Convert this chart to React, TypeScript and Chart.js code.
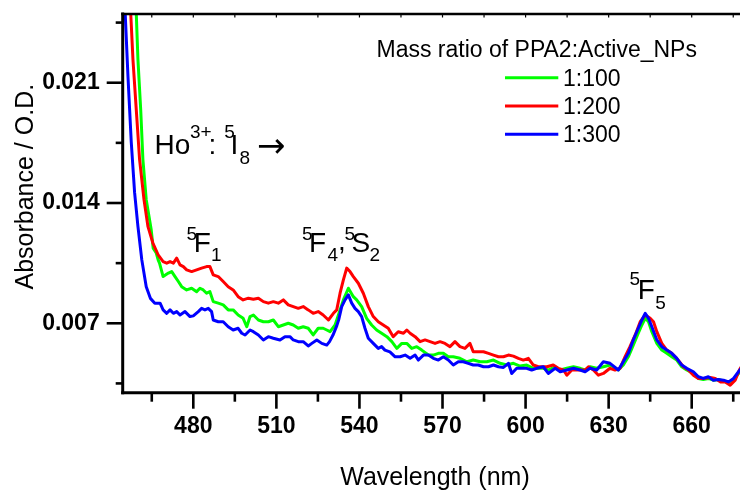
import React, { useEffect, useRef } from 'react';
import { Chart, registerables } from 'chart.js';

Chart.register(...registerables);

const FONT = "'Liberation Sans', Arial, Helvetica, sans-serif";

// Axis ranges
const X_MIN = 454.5;
const X_MAX = 677.44;
const Y_MIN = 0.00296;
const Y_MAX = 0.025;

// Tick values and labels
const X_TICKS = [465, 480, 495, 510, 525, 540, 555, 570, 585, 600, 615, 630, 645, 660, 675];
const X_LABELS = ['', '480', '', '510', '', '540', '', '570', '', '600', '', '630', '', '660', ''];
const Y_TICKS = [0.0035, 0.007, 0.0105, 0.014, 0.0175, 0.021, 0.0245];
const Y_LABELS = ['', '0.007', '', '0.014', '', '0.021', ''];

// Series names and colours
const SERIES_NAMES = ['1:100', '1:200', '1:300'];
const SERIES_COLORS = ['#00ff00', '#ff0000', '#0000ff'];

// 1:300 (blue)
const BLUE_WL = [454.5, 455.4, 456.4, 457.6, 458.8, 460.0, 461.4, 463.0, 464.5, 466.1,
  468.0, 469.1, 470.4, 471.6, 472.8, 474.0, 475.2, 477.0, 478.8, 480.0,
  481.8, 483.0, 484.2, 485.4, 486.6, 487.2, 489.0, 490.8, 492.6, 494.4,
  496.2, 497.5, 498.7, 500.5, 501.7, 503.5, 505.3, 507.1, 508.9, 511.3,
  513.1, 514.9, 516.1, 517.9, 519.7, 521.5, 522.8, 524.6, 526.4, 528.2,
  529.2, 530.4, 531.8, 532.5, 533.6, 534.8, 536.0, 537.2, 538.4, 539.6,
  540.8, 542.0, 543.2, 545.0, 546.8, 548.0, 549.2, 551.0, 552.9, 554.7,
  556.5, 558.3, 560.1, 561.3, 563.1, 564.9, 566.7, 568.5, 570.3, 572.1,
  573.9, 575.7, 577.5, 579.3, 581.1, 582.9, 584.8, 586.6, 588.4, 590.2,
  592.0, 593.8, 595.0, 596.8, 598.6, 600.4, 602.2, 604.0, 606.4, 608.2,
  610.7, 612.5, 614.9, 617.3, 619.7, 621.5, 623.3, 625.7, 628.1, 630.5,
  633.5, 635.3, 637.1, 638.9, 640.7, 642.0, 643.2, 644.4, 645.6, 647.4,
  649.2, 651.0, 652.8, 654.6, 656.4, 658.2, 660.6, 662.4, 664.2, 666.0,
  667.8, 669.6, 671.5, 673.3, 675.1, 676.9, 678.0];
const BLUE_ABS = [0.02880, 0.02504, 0.02138, 0.01752, 0.01460, 0.01264, 0.01069, 0.00913, 0.00845, 0.00817,
  0.00817, 0.00778, 0.00758, 0.00778, 0.00758, 0.00768, 0.00748, 0.00768, 0.00739, 0.00743,
  0.00768, 0.00787, 0.00778, 0.00787, 0.00768, 0.00719, 0.00709, 0.00709, 0.00680, 0.00661,
  0.00671, 0.00642, 0.00632, 0.00661, 0.00651, 0.00632, 0.00603, 0.00622, 0.00613, 0.00603,
  0.00622, 0.00622, 0.00603, 0.00593, 0.00593, 0.00568, 0.00583, 0.00603, 0.00583, 0.00573,
  0.00593, 0.00630, 0.00685, 0.00720, 0.00797, 0.00836, 0.00865, 0.00817, 0.00787, 0.00768,
  0.00739, 0.00671, 0.00613, 0.00583, 0.00554, 0.00564, 0.00544, 0.00534, 0.00505, 0.00505,
  0.00515, 0.00496, 0.00515, 0.00486, 0.00515, 0.00515, 0.00496, 0.00486, 0.00505, 0.00486,
  0.00457, 0.00476, 0.00476, 0.00467, 0.00457, 0.00457, 0.00447, 0.00447, 0.00457, 0.00447,
  0.00443, 0.00467, 0.00408, 0.00438, 0.00438, 0.00438, 0.00428, 0.00438, 0.00447, 0.00408,
  0.00438, 0.00418, 0.00428, 0.00438, 0.00428, 0.00418, 0.00438, 0.00428, 0.00476, 0.00467,
  0.00428, 0.00476, 0.00525, 0.00603, 0.00671, 0.00719, 0.00758, 0.00729, 0.00680, 0.00603,
  0.00564, 0.00544, 0.00525, 0.00496, 0.00457, 0.00438, 0.00418, 0.00389, 0.00379, 0.00389,
  0.00369, 0.00373, 0.00369, 0.00359, 0.00379, 0.00418, 0.00440];

// 1:100 (green)
const GREEN_WL = [458.5, 459.4, 460.0, 461.0, 461.8, 463.0, 464.8, 465.5, 466.6, 467.3,
  467.8, 469.1, 471.0, 472.2, 473.4, 474.6, 475.8, 477.6, 479.4, 481.2,
  482.4, 483.6, 484.8, 486.0, 487.2, 489.0, 490.8, 492.6, 494.4, 496.2,
  498.0, 499.3, 500.5, 501.7, 503.5, 505.3, 507.1, 508.9, 510.7, 512.5,
  514.3, 516.1, 517.9, 519.7, 521.5, 523.3, 525.1, 526.9, 528.2, 529.4,
  531.2, 533.0, 534.2, 536.0, 537.8, 539.0, 540.8, 542.6, 544.4, 546.2,
  548.0, 549.9, 551.7, 553.5, 555.3, 557.1, 558.9, 560.7, 562.5, 564.9,
  566.7, 568.5, 570.3, 572.1, 573.9, 576.3, 578.8, 581.1, 583.6, 586.0,
  588.4, 590.8, 593.2, 595.6, 598.0, 600.4, 602.8, 604.6, 606.4, 608.2,
  610.7, 612.5, 614.9, 617.3, 619.7, 621.5, 623.3, 625.7, 628.1, 630.5,
  633.5, 635.3, 637.1, 638.9, 640.7, 642.0, 643.2, 644.4, 645.6, 647.4,
  649.2, 651.0, 652.8, 654.6, 656.4, 658.2, 660.6, 662.4, 664.2, 666.0,
  667.8, 669.6, 671.5, 673.3, 675.1, 676.9, 678.0];
const GREEN_ABS = [0.02900, 0.02504, 0.02236, 0.01944, 0.01653, 0.01419, 0.01244, 0.01137, 0.01110, 0.01069,
  0.01050, 0.00972, 0.00992, 0.01001, 0.00972, 0.00943, 0.00913, 0.00894, 0.00904, 0.00884,
  0.00904, 0.00894, 0.00875, 0.00884, 0.00826, 0.00817, 0.00807, 0.00778, 0.00778, 0.00748,
  0.00729, 0.00680, 0.00739, 0.00748, 0.00719, 0.00709, 0.00709, 0.00719, 0.00680, 0.00690,
  0.00700, 0.00690, 0.00671, 0.00680, 0.00671, 0.00632, 0.00671, 0.00671, 0.00661, 0.00651,
  0.00690, 0.00778, 0.00836, 0.00904, 0.00855, 0.00836, 0.00797, 0.00729, 0.00690, 0.00661,
  0.00642, 0.00622, 0.00593, 0.00554, 0.00583, 0.00583, 0.00554, 0.00564, 0.00544, 0.00515,
  0.00515, 0.00525, 0.00525, 0.00505, 0.00505, 0.00496, 0.00476, 0.00486, 0.00476, 0.00476,
  0.00486, 0.00467, 0.00457, 0.00467, 0.00451, 0.00457, 0.00438, 0.00438, 0.00438, 0.00428,
  0.00447, 0.00428, 0.00438, 0.00447, 0.00438, 0.00428, 0.00447, 0.00438, 0.00447, 0.00457,
  0.00428, 0.00457, 0.00505, 0.00573, 0.00642, 0.00690, 0.00729, 0.00709, 0.00651, 0.00583,
  0.00544, 0.00525, 0.00505, 0.00486, 0.00447, 0.00428, 0.00408, 0.00379, 0.00373, 0.00379,
  0.00369, 0.00373, 0.00364, 0.00355, 0.00373, 0.00408, 0.00430];

// 1:200 (red)
const RED_WL = [456.4, 457.4, 458.2, 459.4, 460.6, 462.2, 463.6, 465.4, 467.3, 469.1,
  470.4, 471.6, 472.8, 474.0, 475.2, 476.4, 477.6, 479.4, 481.2, 483.0,
  484.8, 486.0, 487.2, 489.0, 490.8, 492.6, 494.4, 496.2, 498.0, 499.9,
  501.7, 503.5, 505.3, 507.1, 508.9, 510.7, 512.5, 514.3, 516.1, 517.9,
  519.7, 521.5, 523.3, 525.1, 526.9, 528.8, 530.6, 531.8, 533.0, 534.2,
  535.4, 536.6, 537.8, 539.6, 541.4, 543.2, 545.0, 546.8, 548.6, 550.4,
  552.2, 554.0, 555.9, 557.1, 558.3, 560.1, 561.9, 563.7, 565.5, 567.3,
  569.1, 570.9, 572.7, 574.5, 576.3, 578.1, 579.9, 581.1, 582.9, 584.8,
  586.6, 588.4, 590.2, 592.0, 593.8, 595.6, 597.4, 599.2, 601.0, 602.8,
  604.6, 607.7, 610.0, 611.8, 613.7, 614.9, 616.7, 619.1, 621.5, 622.7,
  624.5, 626.3, 628.1, 630.5, 632.3, 634.1, 635.9, 637.7, 639.6, 641.4,
  643.2, 645.0, 646.2, 647.4, 649.2, 651.0, 652.8, 654.6, 657.0, 658.8,
  660.6, 662.4, 664.2, 666.7, 668.5, 670.3, 672.1, 673.9, 675.7, 677.2,
  678.0];
const RED_ABS = [0.02800, 0.02504, 0.02236, 0.01944, 0.01653, 0.01419, 0.01264, 0.01167, 0.01098, 0.01059,
  0.01050, 0.01059, 0.01050, 0.01079, 0.01040, 0.01030, 0.01011, 0.01001, 0.01011, 0.01021,
  0.01030, 0.01030, 0.00982, 0.00972, 0.00943, 0.00913, 0.00894, 0.00855, 0.00836, 0.00846,
  0.00840, 0.00846, 0.00826, 0.00817, 0.00826, 0.00817, 0.00836, 0.00807, 0.00797, 0.00787,
  0.00797, 0.00778, 0.00758, 0.00768, 0.00748, 0.00719, 0.00758, 0.00778, 0.00875, 0.00953,
  0.01021, 0.01001, 0.00972, 0.00933, 0.00875, 0.00797, 0.00739, 0.00709, 0.00690, 0.00671,
  0.00622, 0.00651, 0.00642, 0.00661, 0.00642, 0.00622, 0.00593, 0.00603, 0.00593, 0.00583,
  0.00593, 0.00583, 0.00564, 0.00593, 0.00564, 0.00554, 0.00583, 0.00534, 0.00534, 0.00534,
  0.00525, 0.00515, 0.00505, 0.00505, 0.00515, 0.00509, 0.00496, 0.00486, 0.00496, 0.00457,
  0.00447, 0.00447, 0.00457, 0.00438, 0.00428, 0.00398, 0.00428, 0.00428, 0.00428, 0.00447,
  0.00428, 0.00398, 0.00408, 0.00438, 0.00428, 0.00438, 0.00505, 0.00564, 0.00632, 0.00709,
  0.00748, 0.00729, 0.00709, 0.00651, 0.00583, 0.00544, 0.00525, 0.00496, 0.00447, 0.00428,
  0.00398, 0.00379, 0.00379, 0.00385, 0.00379, 0.00359, 0.00359, 0.00340, 0.00369, 0.00428,
  0.00450];

// Text content
const X_TITLE = 'Wavelength (nm)';
const Y_TITLE = 'Absorbance / O.D.';
const LEGEND_TITLE = 'Mass ratio of PPA2:Active_NPs';

// Annotation runs: text, left x, baseline y, font size, optional font family
type Run = { t: string; x: number; y: number; s: number; f?: string };
const ANNOTATIONS: Run[] = [
  { t: 'Ho', x: 154.5, y: 154, s: 28 },
  { t: '3+', x: 190, y: 138, s: 19 },
  { t: ':', x: 208.5, y: 154, s: 28 },
  { t: '5', x: 224.3, y: 138, s: 19 },
  { t: 'I', x: 230.5, y: 154, s: 28 },
  { t: '8', x: 239.5, y: 164, s: 19 },
  { t: '\u2192', x: 257, y: 157, s: 34, f: "'DejaVu Sans', sans-serif" },
  { t: '5', x: 186.5, y: 240, s: 19 },
  { t: 'F', x: 193.8, y: 251.7, s: 28 },
  { t: '1', x: 211, y: 260.7, s: 19 },
  { t: '5', x: 302, y: 240, s: 19 },
  { t: 'F', x: 309, y: 251.7, s: 28 },
  { t: '4', x: 327.5, y: 260.7, s: 19 },
  { t: ',', x: 338, y: 250, s: 28 },
  { t: '5', x: 344.5, y: 240, s: 19 },
  { t: 'S', x: 351.5, y: 251.7, s: 28 },
  { t: '2', x: 369.5, y: 261, s: 19 },
  { t: '5', x: 629.5, y: 285.3, s: 19 },
  { t: 'F', x: 637.8, y: 299.3, s: 28 },
  { t: '5', x: 655.3, y: 309, s: 19 },
];

const decorPlugin = {
  id: 'decor',
  afterDraw(chart: any) {
    const ctx: CanvasRenderingContext2D = chart.ctx;
    const xs = chart.scales.x;
    const ys = chart.scales.y;
    const a = chart.chartArea;
    ctx.save();
    ctx.strokeStyle = '#000';
    ctx.fillStyle = '#000';
    ctx.lineCap = 'butt';

    const line = (x1: number, y1: number, x2: number, y2: number, w: number) => {
      ctx.lineWidth = w;
      ctx.beginPath();
      ctx.moveTo(x1, y1);
      ctx.lineTo(x2, y2);
      ctx.stroke();
    };

    // x ticks (bottom outward, top inward small)
    X_TICKS.forEach((v, i) => {
      const px = xs.getPixelForValue(v);
      const major = X_LABELS[i] !== '';
      line(px, a.bottom, px, a.bottom + (major ? 16 : 9), 2.6);
      line(px, a.top, px, a.top + 3.5, 1.2);
    });
    // y ticks
    Y_TICKS.forEach((v, i) => {
      const py = ys.getPixelForValue(v);
      const major = Y_LABELS[i] !== '';
      line(a.left - (major ? 16 : 7), py, a.left, py, 2.6);
    });
    // axes frame
    line(a.left, a.top - 1.5, a.left, a.bottom + 1.5, 3);
    line(a.left - 1.5, a.bottom, a.right, a.bottom, 3);
    line(a.left - 1.5, a.top, a.right, a.top, 2.5);

    // axis titles
    ctx.font = `25px ${FONT}`;
    ctx.textAlign = 'center';
    ctx.textBaseline = 'alphabetic';
    ctx.fillText(X_TITLE, 435, 485);
    ctx.save();
    ctx.translate(33, 186.7);
    ctx.rotate(-Math.PI / 2);
    ctx.fillText(Y_TITLE, 0, 0);
    ctx.restore();

    // annotations
    ctx.textAlign = 'left';
    ANNOTATIONS.forEach((r) => {
      ctx.font = `${r.s}px ${r.f || FONT}`;
      ctx.fillText(r.t, r.x, r.y);
    });

    // legend
    ctx.font = `23px ${FONT}`;
    ctx.fillText(LEGEND_TITLE, 376.5, 57.3);
    const rowY = [77.7, 106, 134.3];
    SERIES_NAMES.forEach((name, i) => {
      ctx.strokeStyle = SERIES_COLORS[i];
      line(505, rowY[i], 558.3, rowY[i], 3);
      ctx.fillText(name, 563, rowY[i] + 8);
    });
    ctx.restore();
  },
};

export default function App() {
  const ref = useRef<HTMLCanvasElement>(null);
  useEffect(() => {
    document.body.style.margin = '0';
    const mk = (wl: number[], ab: number[]) => wl.map((x, i) => ({ x, y: ab[i] }));
    const chart = new Chart(ref.current as HTMLCanvasElement, {
      type: 'line',
      data: {
        datasets: [
          { label: SERIES_NAMES[2], data: mk(BLUE_WL, BLUE_ABS), borderColor: SERIES_COLORS[2] },
          { label: SERIES_NAMES[1], data: mk(RED_WL, RED_ABS), borderColor: SERIES_COLORS[1] },
          { label: SERIES_NAMES[0], data: mk(GREEN_WL, GREEN_ABS), borderColor: SERIES_COLORS[0] },
        ],
      },
      options: {
        responsive: false,
        animation: false,
        devicePixelRatio: 1,
        layout: { padding: { top: 14, left: 0, right: 0, bottom: 0 } },
        plugins: { legend: { display: false }, tooltip: { enabled: false } },
        elements: {
          point: { radius: 0 },
          line: { tension: 0, borderWidth: 3, borderJoinStyle: 'round', borderCapStyle: 'round', fill: false },
        },
        scales: {
          x: {
            type: 'linear',
            bounds: 'data',
            min: X_MIN,
            max: X_MAX,
            grid: { display: false, drawTicks: false },
            border: { display: false },
            afterBuildTicks: (s: any) => {
              s.ticks = X_TICKS.map((v) => ({ value: v }));
            },
            afterFit: (s: any) => {
              s.height = 99.3;
              s.paddingLeft = 0;
              s.paddingRight = 0;
            },
            ticks: {
              autoSkip: false,
              maxRotation: 0,
              minRotation: 0,
              padding: 20,
              color: '#000',
              font: { family: FONT, size: 23, weight: 'bold' },
              callback: (_v: any, i: number) => X_LABELS[i],
            },
          },
          y: {
            type: 'linear',
            bounds: 'data',
            min: Y_MIN,
            max: Y_MAX,
            grid: { display: false, drawTicks: false },
            border: { display: false },
            afterBuildTicks: (s: any) => {
              s.ticks = Y_TICKS.map((v) => ({ value: v }));
            },
            afterFit: (s: any) => {
              s.width = 122.7;
              s.paddingTop = 0;
              s.paddingBottom = 0;
            },
            ticks: {
              autoSkip: false,
              padding: 23,
              color: '#000',
              font: { family: FONT, size: 23, weight: 'bold' },
              callback: (_v: any, i: number) => Y_LABELS[i],
            },
          },
        },
      } as any,
      plugins: [decorPlugin],
    });
    return () => chart.destroy();
  }, []);
  return (
    <div style={{ position: 'absolute', left: 0, top: 0, width: 740, height: 492, background: '#fff' }}>
      <canvas ref={ref} width={740} height={492} style={{ display: 'block' }} />
    </div>
  );
}
